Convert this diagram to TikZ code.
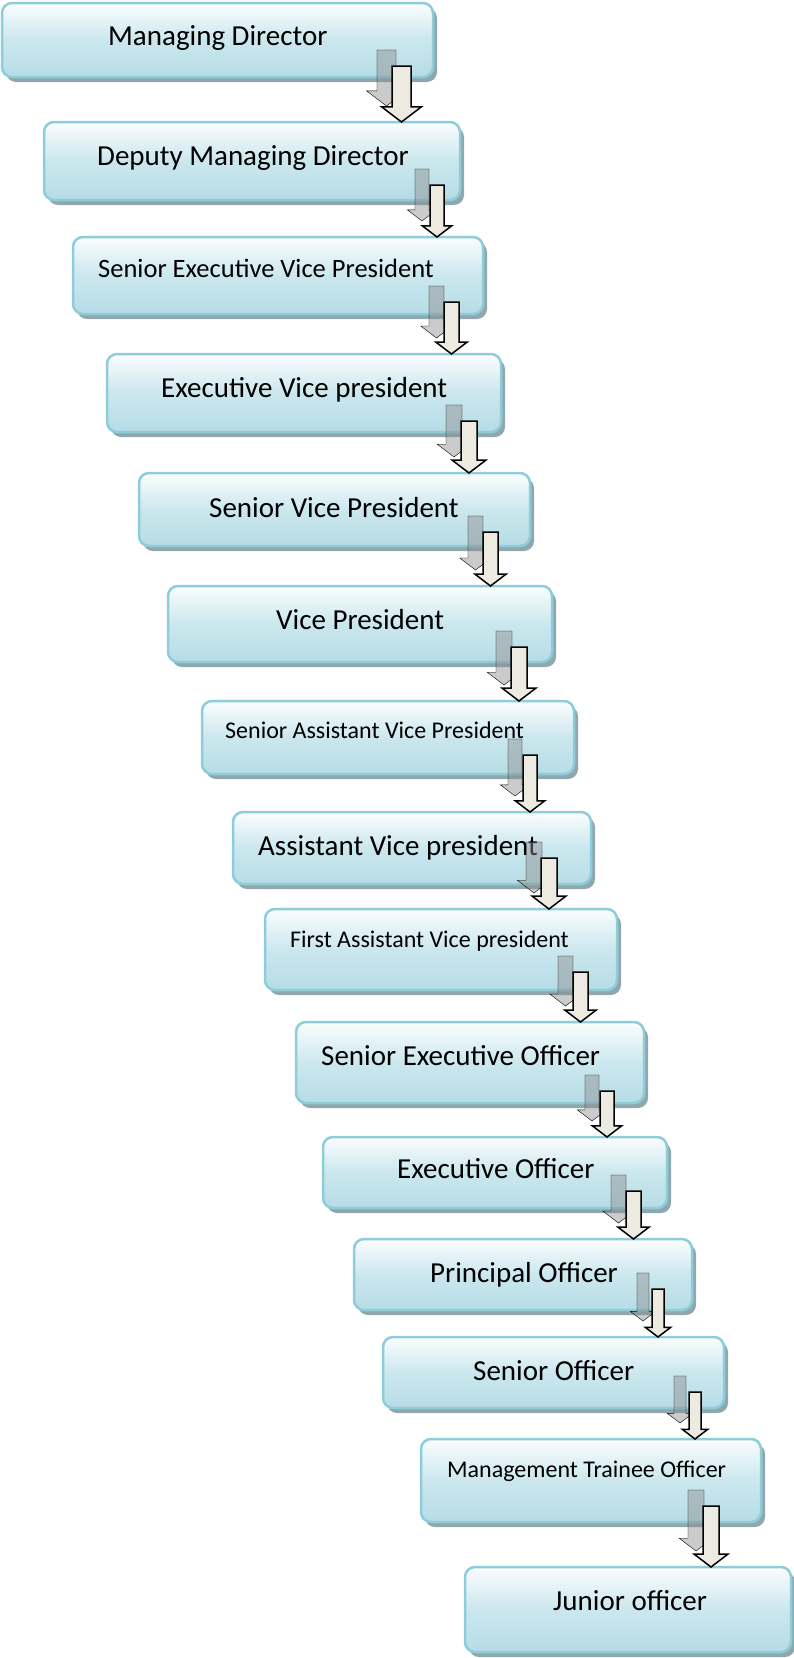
\documentclass[tikz,border=0pt]{standalone}
\usepackage{fontspec}
\setmainfont{Carlito}
\usetikzlibrary{calc, math, shadows}
\definecolor{rankrim}{HTML}{8DCCDA}
\definecolor{ranktop}{HTML}{FBFDFE}
\definecolor{rankmid}{HTML}{CBE7EE}
\definecolor{rankbottom}{HTML}{B6DCE6}
\definecolor{rankshade}{HTML}{8FA7AD}
\definecolor{stepfill}{HTML}{EDEBE1}
\tikzset{
	ladder/.is family,
	ladder/.cd,
	rank/.style = {
		draw = rankrim,
		line width = 2.5pt,
		rounded corners = 10pt,
		top color = ranktop,
		bottom color = rankbottom,
		middle color = rankmid,
		inner sep = 0pt,
		outer sep = 0pt,
		anchor = north west,
		drop shadow={shadow xshift=4pt,shadow yshift=-5pt,fill=rankshade,opacity=1},
	},
	label/.style = {
		anchor = base west,
		inner sep = 0pt,
		text = black,
	},
	big/.style = {font = \fontsize{29}{34}\selectfont},
	mid/.style = {font = \fontsize{26.5}{31}\selectfont},
	small/.style = {font = \fontsize{24}{28}\selectfont},
	% block arrow drawn as one closed outline between start and tip
	step shape/.style = {
		to path = {
			let \p1 = (\tikztostart), \p2 = (\tikztotarget) in
			(\x1 - \aw pt, \y1) -- (\x1 + \aw pt, \y1)
			-- (\x1 + \aw pt, \y2 + \headl pt) -- (\x1 + \headw pt, \y2 + \headl pt)
			-- (\x1, \y2)
			-- (\x1 - \headw pt, \y2 + \headl pt) -- (\x1 - \aw pt, \y2 + \headl pt)
			-- cycle
		},
	},
	block arrow/.style = {
		ladder/step shape,
		draw = black,
		line width = 1.5pt,
		fill = stepfill,
		line join = miter,
	},
	shadow arrow/.style = {
		ladder/step shape,
		fill = gray!90,
		fill opacity = 0.45,
		transform canvas = {xshift = -15pt, yshift = 16pt},
	},
}

\begin{document}
\begin{tikzpicture}[x = 1pt, y = -1pt]
	\useasboundingbox (0, 0) rectangle (794, 1658);
	\foreach \i/\ax/\ay/\bx/\by/\tx/\ty/\fs/\txt in {
		1/2/3/433/77/108/45/big/Managing Director,
		2/44/122/460/200/97/165/big/Deputy Managing Director,
		3/73/237/483/314/98/277/mid/Senior Executive Vice President,
		4/107/354/501/432/161/397/big/Executive Vice president,
		5/139/473/530/546/209/517/big/Senior Vice President,
		6/168/586/552/662/276/629/big/Vice President,
		7/202/701/574/774/225/738/small/Senior Assistant Vice President,
		8/233/812/591/884/258/855/big/Assistant Vice president,
		9/265/909/617/990/290/947/small/First Assistant Vice president,
		10/296/1022/644/1103/321/1065/big/Senior Executive Officer,
		11/323/1137/667/1208/397/1178/big/Executive Officer,
		12/354/1239/692/1310/430/1282/big/Principal Officer,
		13/383/1337/724/1408/473/1380/big/Senior Officer,
		14/421/1439/761/1522/447/1477/small/Management Trainee Officer,
		15/465/1567/791/1652/553/1610/big/Junior officer}{
		\tikzmath{
			\bw = \bx - \ax;
			\bh = \by - \ay;
		}
		\node[ladder/rank, minimum width = \bw pt, minimum height = \bh pt] (r-\i) at (\ax, \ay) {};
		\node[ladder/label, ladder/\fs] (t-\i) at (\tx, \ty) {\txt};
	}
	\foreach \i/\cx/\cy/\aw [evaluate = \i as \j using int(\i + 1)] in {
		1/401.5/66/9.5, 2/437/185/7, 3/451.5/302/7.5, 4/469/421/8,
		5/490.5/532/7.5, 6/519/647/8, 7/530/755/7, 8/549/858/8,
		9/580.5/972/7.5, 10/607/1091/7, 11/633.5/1191/7.5, 12/658/1289/6,
		13/695/1392/6, 14/711/1506/8}{
		\tikzmath{
			\headw = 2.1 * \aw;
			\headl = 1.6 * \aw;
		}
		\coordinate (a-\i) at (\cx, \cy);
		\draw[ladder/shadow arrow] (a-\i) to (a-\i |- r-\j.north);
		\draw[ladder/block arrow] (a-\i) to (a-\i |- r-\j.north);
	}
\end{tikzpicture}
\end{document}
